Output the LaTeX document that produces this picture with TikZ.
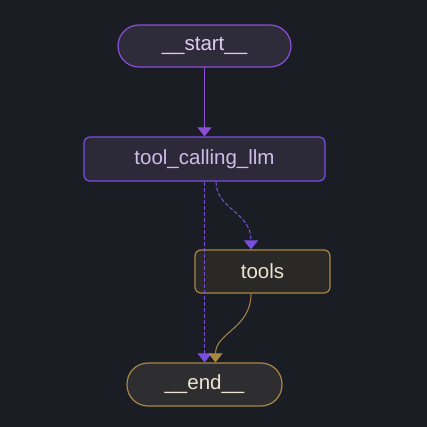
\documentclass[tikz,border=0pt]{standalone}
\usepackage{fontspec}
\setmainfont{Liberation Sans}
\usetikzlibrary{arrows.meta,calc}

\definecolor{bgdark}{HTML}{1B1D25}
\definecolor{purpleline}{HTML}{8C4FD6}
\definecolor{violetline}{HTML}{7A4FE0}
\definecolor{goldline}{HTML}{A98744}
\definecolor{startfill}{HTML}{2E2B3A}
\definecolor{llmfill}{HTML}{2C2A38}
\definecolor{toolfill}{HTML}{2A2927}
\definecolor{endfill}{HTML}{2E2E31}
\definecolor{purpletext}{HTML}{E3CCF2}
\definecolor{llmtext}{HTML}{CDBDEB}
\definecolor{goldtext}{HTML}{EDE4D2}

\tikzset{
  graphnode/.style={draw, line width=1.2pt, inner sep=0pt,
    font=\fontsize{20.5}{23}\selectfont},
  pillnode/.style={graphnode, rounded corners=21pt},
  boxnode/.style={graphnode, rounded corners=6pt},
  tip/.style={-{Triangle[width=14pt,length=9pt]}},
  dashline/.style={dash pattern=on 4pt off 2pt},
}

\begin{document}
\begin{tikzpicture}[x=1pt, y=-1pt]

  % background
  \fill[bgdark] (0,0) rectangle (427,427);
  \useasboundingbox (0,0) rectangle (427,427);

  % nodes
  \node[pillnode, draw=purpleline, fill=startfill, text=purpletext,
    minimum width=173pt, minimum height=42pt] (start) at (204.5,46) {\_\_start\_\_};
  \node[boxnode, draw=violetline, fill=llmfill, text=llmtext,
    minimum width=241pt, minimum height=44pt] (llm) at (204.5,159) {tool\_calling\_llm};
  \node[boxnode, draw=goldline, fill=toolfill, text=goldtext,
    minimum width=135pt, minimum height=43pt] (tools) at (262.5,271.5) {tools};
  \node[pillnode, draw=goldline, fill=endfill, text=goldtext,
    minimum width=155pt, minimum height=43pt] (end) at (204.5,384.5) {\_\_end\_\_};

  % edges
  \draw[tip, line width=1pt, draw=purpleline] (start) -- (llm);
  \draw[tip, line width=1pt, dashline, draw=violetline]
    (llm.south) -- (end.north);
  \draw[tip, line width=1pt, dashline, draw=violetline]
    ([xshift=11.5pt]llm.south) .. controls ([xshift=11.5pt,yshift=-28pt]llm.south)
    and ([xshift=-11.5pt,yshift=38pt]tools.north) .. ([xshift=-11.5pt]tools.north);
  \draw[tip, line width=1pt, draw=goldline]
    ([xshift=-11.5pt]tools.south) .. controls ([xshift=-11.5pt,yshift=-35pt]tools.south)
    and ([xshift=11pt,yshift=30pt]end.north) .. ([xshift=11pt]end.north);

\end{tikzpicture}
\end{document}
